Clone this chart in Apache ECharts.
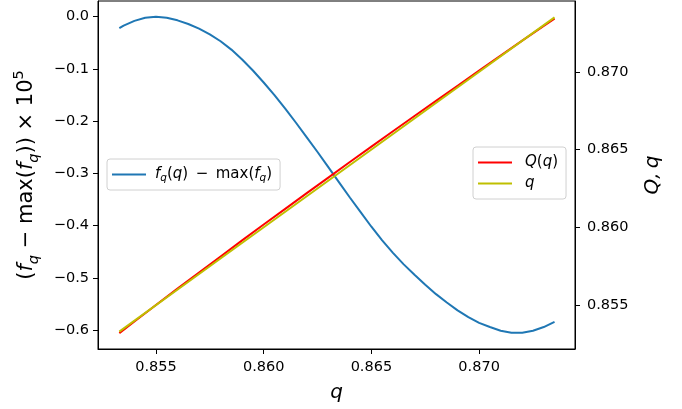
<!DOCTYPE html>
<html>
<head>
<meta charset="utf-8">
<script src="https://cdn.jsdelivr.net/npm/echarts@6/dist/echarts.min.js"></script>
<style>
  html, body { margin: 0; padding: 0; background: #fff; }
  #chart { width: 682px; height: 409px; }
</style>
</head>
<body>
<div id="chart"></div>
<script>
// f_q(q) - max(f_q), scaled by 1e5
const qF = [0.8533, 0.8535, 0.8540, 0.8545, 0.8550, 0.8555, 0.8560, 0.8565, 0.8570, 0.8575,
            0.8580, 0.8585, 0.8590, 0.8595, 0.8600, 0.8605, 0.8610, 0.8615, 0.8620, 0.8625,
            0.8630, 0.8635, 0.8640, 0.8645, 0.8650, 0.8655, 0.8660, 0.8665, 0.8670, 0.8675,
            0.8680, 0.8685, 0.8690, 0.8695, 0.8700, 0.8705, 0.8710, 0.8715, 0.8720, 0.8725,
            0.8730, 0.8735];
const fDiff = [-0.022, -0.017, -0.008, -0.002, 0.000, -0.002, -0.007, -0.014, -0.023, -0.034,
               -0.047, -0.063, -0.082, -0.103, -0.126, -0.150, -0.176, -0.203, -0.231, -0.259,
               -0.288, -0.317, -0.346, -0.374, -0.402, -0.428, -0.452, -0.474, -0.494, -0.513,
               -0.531, -0.547, -0.562, -0.575, -0.586, -0.594, -0.601, -0.605, -0.605, -0.601,
               -0.594, -0.584];

// Q(q) against q
const qQ = [0.8533, 0.8540, 0.8550, 0.8560, 0.8570, 0.8580, 0.8590, 0.8600, 0.8610, 0.8620, 0.8630,
            0.8640, 0.8650, 0.8660, 0.8670, 0.8680, 0.8690, 0.8700, 0.8710, 0.8720, 0.8730, 0.8735];
const bigQ = [0.85320, 0.85395, 0.85501, 0.85606, 0.85710, 0.85813, 0.85916, 0.86018, 0.86119, 0.86220, 0.86320,
              0.86420, 0.86519, 0.86618, 0.86716, 0.86813, 0.86910, 0.87007, 0.87104, 0.87200, 0.87295, 0.87342];

// identity line q
const qLine = [0.8533, 0.8583, 0.8633, 0.8683, 0.8735];

// tick values
const xTicks = [0.855, 0.860, 0.865, 0.870];
const yLeftTicks = [-0.6, -0.5, -0.4, -0.3, -0.2, -0.1, 0.0];
const yRightTicks = [0.855, 0.860, 0.865, 0.870];

const FONT = 'DejaVu Sans';
const TICK_FS = 14.5;
const minus = s => s.replace('-', '\u2212');

// rich-text styles for math-like labels (italic symbols, sub/superscripts)
const mathRich = (base, sub, lh) => ({
  p: { fontFamily: FONT, fontSize: base, color: '#000', lineHeight: lh },
  i: { fontFamily: FONT, fontSize: base, fontStyle: 'italic', color: '#000', lineHeight: lh },
  s: { fontFamily: FONT, fontSize: sub, fontStyle: 'italic', color: '#000', lineHeight: sub, verticalAlign: 'bottom' },
  u: { fontFamily: FONT, fontSize: sub, color: '#000', lineHeight: sub, verticalAlign: 'top' }
});

const chart = echarts.init(document.getElementById('chart'), null, { renderer: 'canvas' });

const tickStyle = { show: true, length: 5, lineStyle: { color: '#000', width: 1 } };

chart.setOption({
  animation: false,
  backgroundColor: '#fff',
  grid: {
    left: 98, right: 107, top: 1, bottom: 60,
    containLabel: false, outerBoundsMode: 'none',
    show: true, borderColor: '#000', borderWidth: 1, backgroundColor: 'transparent'
  },
  xAxis: {
    type: 'value',
    min: 0.85231, max: 0.87445,
    axisLine: { show: true, onZero: false, lineStyle: { color: '#000', width: 1 } },
    splitLine: { show: false },
    axisTick: Object.assign({ customValues: xTicks }, tickStyle),
    axisLabel: { customValues: xTicks, margin: 11, fontFamily: FONT, fontSize: TICK_FS, color: '#000',
                 formatter: v => v.toFixed(3) },
    name: 'q',
    nameLocation: 'middle',
    nameGap: 34,
    nameTextStyle: { fontFamily: FONT, fontSize: 20, fontStyle: 'italic', color: '#000' }
  },
  yAxis: [
    {
      type: 'value',
      position: 'left',
      min: -0.636, max: 0.030,
      axisLine: { show: true, onZero: false, lineStyle: { color: '#000', width: 1 } },
      splitLine: { show: false },
      axisTick: Object.assign({ customValues: yLeftTicks }, tickStyle),
      axisLabel: { customValues: yLeftTicks, margin: 9, fontFamily: FONT, fontSize: TICK_FS, color: '#000',
                   formatter: v => minus(v.toFixed(1)) },
      name: '{p|(}{i|f}{s|q}{p| \u2212 max(}{i|f}{s|q}{p|)) \u00d7 10}{u|5}',
      nameLocation: 'middle',
      nameGap: 56,
      nameRotate: 90,
      nameTextStyle: { rich: mathRich(21, 14.5, 30) }
    },
    {
      type: 'value',
      position: 'right',
      min: 0.85218, max: 0.87455,
      axisLine: { show: true, onZero: false, lineStyle: { color: '#000', width: 1 } },
      splitLine: { show: false },
      axisTick: Object.assign({ customValues: yRightTicks }, tickStyle),
      axisLabel: { customValues: yRightTicks, margin: 12, fontFamily: FONT, fontSize: TICK_FS, color: '#000',
                   formatter: v => v.toFixed(3) },
      name: 'Q,\u2009q',
      nameLocation: 'middle',
      nameGap: 68,
      nameRotate: 90,
      nameTextStyle: { fontFamily: FONT, fontSize: 20, fontStyle: 'italic', color: '#000' }
    }
  ],
  legend: [
    {
      data: ['fq'],
      left: 107, top: 159,
      orient: 'vertical',
      icon: 'rect', itemWidth: 34, itemHeight: 2, itemGap: 4,
      padding: [6, 8, 6, 5],
      backgroundColor: 'rgba(255,255,255,0.8)',
      borderColor: '#d0d0d0', borderWidth: 1, borderRadius: 3,
      formatter: () => '{i|f}{s|q}{p|(}{i|q}{p|)\u2002\u2212\u2002max(}{i|f}{s|q}{p|)}',
      textStyle: { rich: mathRich(15, 10.5, 19), lineHeight: 19, padding: [0, 0, 0, 4] }
    },
    {
      data: ['Q', 'q'],
      left: 473, top: 147,
      orient: 'vertical',
      icon: 'rect', itemWidth: 34, itemHeight: 2, itemGap: 2,
      padding: [6, 8, 6, 5],
      backgroundColor: 'rgba(255,255,255,0.8)',
      borderColor: '#d0d0d0', borderWidth: 1, borderRadius: 3,
      formatter: n => n === 'Q' ? '{i|Q}{p|(}{i|q}{p|)}' : '{i|q}',
      textStyle: { rich: mathRich(15, 10.5, 19), lineHeight: 19, padding: [0, 0, 0, 8] }
    }
  ],
  series: [
    {
      name: 'fq', type: 'line', yAxisIndex: 0, showSymbol: false, symbol: 'none',
      lineStyle: { color: '#1f77b4', width: 2 }, itemStyle: { color: '#1f77b4' },
      data: qF.map((q, i) => [q, fDiff[i]])
    },
    {
      name: 'Q', type: 'line', yAxisIndex: 1, showSymbol: false, symbol: 'none',
      lineStyle: { color: '#ff0000', width: 2 }, itemStyle: { color: '#ff0000' },
      data: qQ.map((q, i) => [q, bigQ[i]])
    },
    {
      name: 'q', type: 'line', yAxisIndex: 1, showSymbol: false, symbol: 'none',
      lineStyle: { color: '#bfbf00', width: 2 }, itemStyle: { color: '#bfbf00' },
      data: qLine.map(q => [q, q])
    }
  ]
});
</script>
</body>
</html>
